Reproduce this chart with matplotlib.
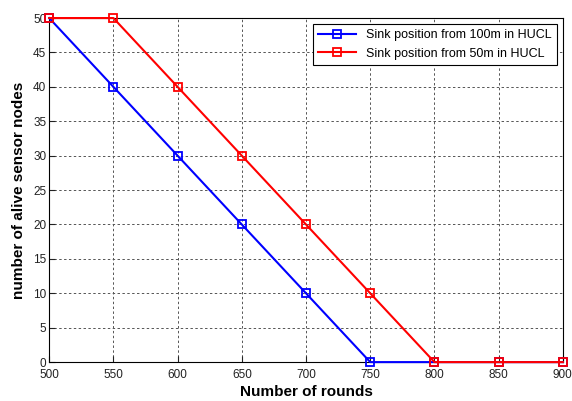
import matplotlib
matplotlib.use("Agg")
import matplotlib.pyplot as plt

rounds = [500, 550, 600, 650, 700, 750, 800, 850, 900]
alive_100m = [50, 40, 30, 20, 10, 0, 0, 0, 0]
alive_50m = [50, 50, 40, 30, 20, 10, 0, 0, 0]

plt.rcParams["font.family"] = ["Liberation Sans", "DejaVu Sans"]

fig = plt.figure(figsize=(5.72, 4.01), dpi=100)
ax = fig.add_axes([0.086, 0.097, 0.898, 0.858])

ax.plot(rounds, alive_100m, color="blue", marker="s", markersize=6,
        markerfacecolor="none", markeredgewidth=1.3, linewidth=1.5,
        clip_on=False, zorder=3, label="Sink position from 100m in HUCL")
ax.plot(rounds, alive_50m, color="red", marker="s", markersize=6,
        markerfacecolor="none", markeredgewidth=1.3, linewidth=1.5,
        clip_on=False, zorder=4, label="Sink position from 50m in HUCL")

ax.set_xlim(500, 900)
ax.set_ylim(0, 50)
ax.set_xticks(range(500, 901, 50))
ax.set_yticks(range(0, 51, 5))
ax.tick_params(direction="in", labelsize=8.5, length=4, colors="#222222")
ax.tick_params(axis="x", pad=5)
ax.tick_params(axis="y", pad=2)
ax.grid(True, color="#555555", linestyle=(0, (2.5, 2.5)), linewidth=0.7)

ax.set_xlabel("Number of rounds", fontsize=11, fontweight="bold", labelpad=3)
ax.set_ylabel("number of alive sensor nodes", fontsize=11, fontweight="bold", labelpad=5)

leg = ax.legend(loc="upper right", fontsize=9, fancybox=False, framealpha=1,
                edgecolor="black", borderaxespad=0.5, handlelength=3)
leg.get_frame().set_linewidth(0.8)

fig.savefig("out.png", dpi=100)
